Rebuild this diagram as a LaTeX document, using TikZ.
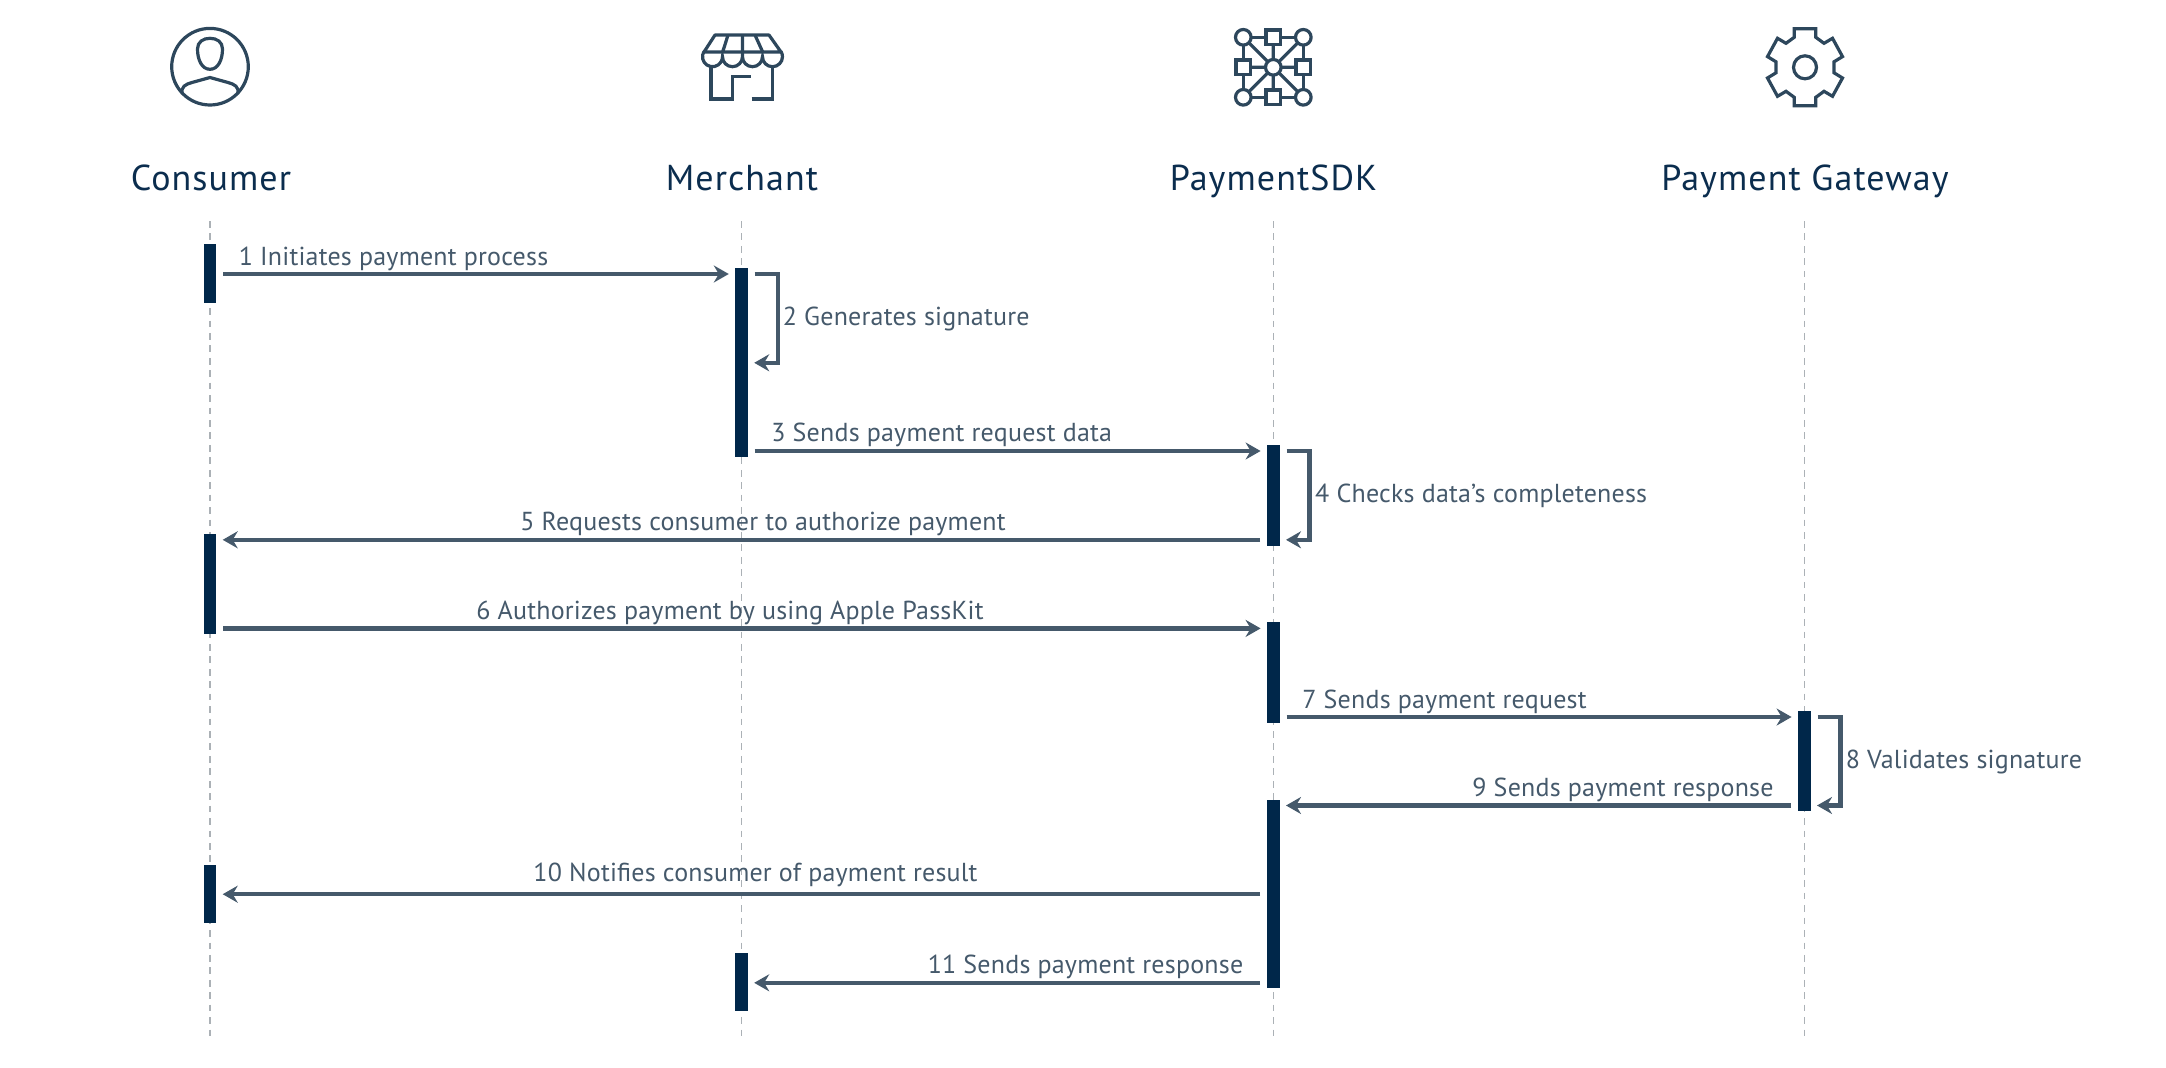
\documentclass[tikz,border=0pt]{standalone}
\usepackage{fontspec}
\usepackage{tikz}
\usetikzlibrary{arrows.meta}
\setmainfont[LetterSpace=3]{PT Sans}
\newfontfamily\msgfamily[LetterSpace=0.8]{PT Sans}
\definecolor{barblue}{HTML}{00274A}
\definecolor{msggray}{HTML}{45596B}
\definecolor{headblue}{HTML}{0B2D4E}
\definecolor{iconblue}{HTML}{2D475C}
\definecolor{lifegray}{HTML}{ABB1B6}
\newcommand{\headfont}{\fontsize{36}{40}\selectfont}
\newcommand{\msgfont}{\msgfamily\fontsize{26}{30}\selectfont}
\tikzset{
  head/.style={font=\headfont,text=headblue,anchor=base,inner sep=0},
  msglabel/.style={font=\msgfont,text=msggray,anchor=base,inner sep=0},
  selflabel/.style={msglabel,anchor=base west},
  bar/.style={rectangle,fill=barblue,inner sep=0,minimum width=12.6},
  lifeline/.style={draw=lifegray,line width=1.4,dash pattern=on 6.7 off 5.74},
  msg/.style={draw=msggray,line width=4.4,-{Stealth[length=15,width=17,inset=5]},
    shorten >=6.2,shorten <=6.7},
  icon/.style={draw=iconblue,line width=3.2},
}
\begin{document}
\begin{tikzpicture}[x=1pt,y=-1pt]
\useasboundingbox (0,0) rectangle (2166,1068);
% icons
\draw[icon] (210,66.7) circle (38.3);
\draw[icon] (210,38.3) .. controls (217,38.3) and (222.5,42) .. (222.5,49)
  .. controls (222.5,60) and (218,69.3) .. (210,69.3)
  .. controls (202,69.3) and (197.5,60) .. (197.5,49)
  .. controls (197.5,42) and (203,38.3) .. (210,38.3) -- cycle;
\draw[icon] (182.5,94) .. controls (180,87) and (186,84) .. (192,82.5) -- (210,77.5)
  -- (228,82.5) .. controls (234,84) and (240,87) .. (237.5,94);
\draw[icon,line join=round] (715,35) -- (769,35) -- (781,52) -- (704,52) -- cycle;
\draw[icon] (728,35) -- (722.7,52) (755,35) -- (762.7,52) (742.5,35) -- (742.5,56);
\draw[icon] (704,51.4) arc (212:0:10) arc (180:0:10) arc (180:0:10) arc (180:-32:10);
\draw[icon] (711,66) -- (711,99) -- (732.7,99) -- (732.7,76.7) -- (751,76.7);
\draw[icon] (751.7,99) -- (772.7,99) -- (772.7,66);
\draw[icon] (1243.3,37.3) rectangle (1303.3,97.3);
\draw[icon] (1243.3,37.3) -- (1303.3,97.3) (1243.3,97.3) -- (1303.3,37.3)
  (1273.3,37.3) -- (1273.3,97.3) (1243.3,67.3) -- (1303.3,67.3);
\foreach \x/\y in {1243.3/37.3,1303.3/37.3,1243.3/97.3,1303.3/97.3,1273.3/67.3}
  \draw[icon,fill=white] (\x,\y) circle (7.8);
\foreach \x/\y in {1273.3/37.3,1243.3/67.3,1303.3/67.3,1273.3/97.3}
  \draw[icon,fill=white] (\x-7.3,\y-7.3) rectangle (\x+7.3,\y+7.3);
\begin{scope}[shift={(1805,67.3)}]
\draw[icon] (-10.8,-38.5) -- (10.8,-38.5) -- (10.8,-30) -- (19,-24) -- (27.5,-29)
  -- (37.5,-10.7) -- (29,-5.5) -- (29,5.5) -- (37.5,10.7) -- (27.5,29) -- (19,24)
  -- (10.8,30) -- (10.8,38.5) -- (-10.8,38.5) -- (-10.8,30) -- (-19,24) -- (-27.5,29)
  -- (-37.5,10.7) -- (-29,5.5) -- (-29,-5.5) -- (-37.5,-10.7) -- (-27.5,-29)
  -- (-19,-24) -- (-10.8,-30) -- cycle;
\draw[icon] (0,0) circle (11.5);
\end{scope}
% heads and lifelines
\node[head] (consumer) at (211,190.5) {Consumer};
\node[head] (merchant) at (742,190) {Merchant};
\node[head] (sdk) at (1273.5,190) {PaymentSDK};
\node[head] (gateway) at (1805,190) {Payment Gateway};
\foreach \name/\x in {consumer/210,merchant/741.5,sdk/1273.3,gateway/1804.3} {
  \coordinate (\name Top) at (\x,221);
  \coordinate (\name Bot) at (\x,1036.3);
  \draw[lifeline] (\name Top) -- (\name Bot);
}
% activation bars
\node[bar,minimum height=58.5] (consumer1) at (210,273.7) {};
\node[bar,minimum height=100.5] (consumer2) at (210,584) {};
\node[bar,minimum height=58] (consumer3) at (210,893.5) {};
\node[bar,minimum height=188.4] (merchant1) at (741.5,362.5) {};
\node[bar,minimum height=58] (merchant2) at (741.5,982) {};
\node[bar,minimum height=100.7] (sdk1) at (1273.3,495.3) {};
\node[bar,minimum height=101] (sdk2) at (1273.3,672) {};
\node[bar,minimum height=188.4] (sdk3) at (1273.3,893.8) {};
\node[bar,minimum height=100.3] (gateway1) at (1804.3,761.2) {};
% messages
\foreach \i/\y in {1/274,2/362.8,3/451,4/539.8,5/628.4,6/717,7/805.5,8/894.2,9/982.8}
  \coordinate (m\i) at (0,\y);
\draw[msg] (consumer1.east |- m1) -- (merchant1.west |- m1);
\draw[msg] (merchant1.east |- m1) -- ++(29.7,0) |- (merchant1.east |- m2);
\draw[msg] (merchant1.east |- m3) -- (sdk1.west |- m3);
\draw[msg] (sdk1.east |- m3) -- ++(29.7,0) |- (sdk1.east |- m4);
\draw[msg] (sdk1.west |- m4) -- (consumer2.east |- m4);
\draw[msg] (consumer2.east |- m5) -- (sdk2.west |- m5);
\draw[msg] (sdk2.east |- m6) -- (gateway1.west |- m6);
\draw[msg] (gateway1.east |- m6) -- ++(29.7,0) |- (gateway1.east |- m7);
\draw[msg] (gateway1.west |- m7) -- (sdk3.east |- m7);
\draw[msg] (sdk3.west |- m8) -- (consumer3.east |- m8);
\draw[msg] (sdk3.west |- m9) -- (merchant2.east |- m9);
% message labels
\node[msglabel] (t1) at (393.5,265) {1 Initiates payment process};
\node[selflabel] (t2) at (782.7,325) {2 Generates signature};
\node[msglabel] (t3) at (941.7,441.7) {3 Sends payment request data};
\node[selflabel] (t4) at (1315,502) {4 Checks data’s completeness};
\node[msglabel] (t5) at (763,530.6) {5 Requests consumer to authorize payment};
\node[msglabel] (t6) at (730,619.4) {6 Authorizes payment by using Apple PassKit};
\node[msglabel] (t7) at (1444.5,708) {7 Sends payment request};
\node[selflabel] (t8) at (1845.7,768) {8 Validates signature};
\node[msglabel] (t9) at (1623,796.6) {9 Sends payment response};
\node[msglabel] (t10) at (755.5,881) {10 Notifies consumer of payment result};
\node[msglabel] (t11) at (1085.5,973.8) {11 Sends payment response};
\end{tikzpicture}
\end{document}
